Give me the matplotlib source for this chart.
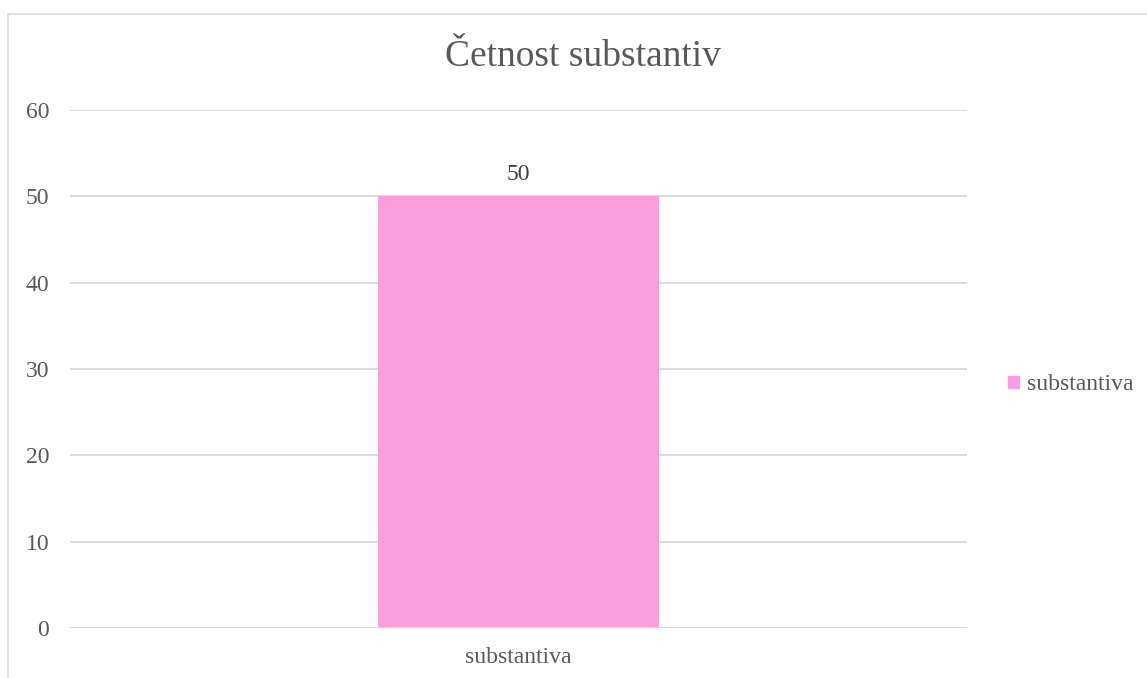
import matplotlib
matplotlib.use("Agg")
import matplotlib.pyplot as plt
from matplotlib.patches import Rectangle, Patch

categories = ["substantiva"]
values = [50]
series_name = "substantiva"
title = "Četnost substantiv"
yticks = [0, 10, 20, 30, 40, 50, 60]

W, H = 1147, 678
fig = plt.figure(figsize=(W / 100, H / 100), dpi=100)
plt.rcParams['font.family'] = ['Liberation Serif', 'DejaVu Serif']

# chart frame
fig.patches.append(Rectangle((8 / W, -0.1), 1.2, (H - 14) / H + 0.1, transform=fig.transFigure,
                             fill=False, edgecolor='#D9D9D9', linewidth=1.2))

ax = fig.add_axes([70 / W, (H - 628) / H, (967 - 70) / W, (628 - 110) / H])
text_color = '#595959'
bar_color = '#FA9FDB'

bars = ax.bar(range(len(categories)), values, width=0.314, color=bar_color, zorder=3, label=series_name)
ax.set_xlim(-0.5, 0.5)
ax.set_ylim(0, 60)
ax.set_yticks(yticks)
ax.set_yticklabels([str(v) for v in yticks], fontsize=17, color=text_color)
ax.set_xticks(range(len(categories)))
ax.set_xticklabels(categories, fontsize=17, color=text_color)
ax.tick_params(axis='y', length=0, pad=15)
ax.tick_params(axis='x', length=0, pad=14)
ax.grid(axis='y', color='#D9D9D9', linewidth=1.3, zorder=0)
for s in ax.spines.values():
    s.set_visible(False)
ax.axhline(0, color='#D9D9D9', linewidth=1.3, zorder=4)

for b, v in zip(bars, values):
    ax.annotate(str(v), (b.get_x() + b.get_width() / 2, v), xytext=(0, 8), textcoords='offset points',
                ha='center', va='bottom', fontsize=17, color='#404040')

fig.text(583 / W, 1 - 57 / H, title, ha='center', va='center', fontsize=27, color=text_color)

fig.legend(handles=[Patch(color=bar_color, label=series_name)], loc='center left',
           bbox_to_anchor=(987 / W, 1 - 385 / H), frameon=False, fontsize=17,
           labelcolor=text_color, handlelength=0.45, handleheight=0.45, handletextpad=0.35)

fig.savefig("out.png", dpi=100)
